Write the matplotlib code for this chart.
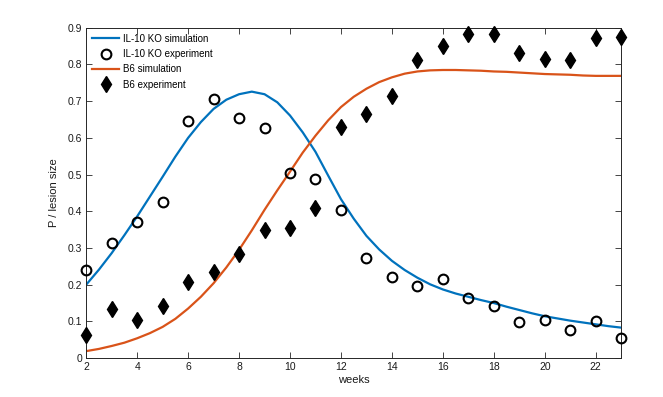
import matplotlib
matplotlib.use("Agg")
import matplotlib.pyplot as plt

plt.rcParams['font.family'] = ['Liberation Sans', 'DejaVu Sans']

weeks_exp = list(range(2, 24))
ko_exp = [0.24, 0.313, 0.372, 0.426, 0.646, 0.705, 0.655, 0.626, 0.505, 0.487, 0.404,
          0.274, 0.222, 0.197, 0.215, 0.163, 0.143, 0.099, 0.104, 0.077, 0.101, 0.055]
b6_exp = [0.063, 0.134, 0.104, 0.143, 0.208, 0.235, 0.284, 0.35, 0.355, 0.408, 0.629,
          0.665, 0.713, 0.811, 0.851, 0.884, 0.884, 0.831, 0.816, 0.811, 0.872, 0.876]

weeks_sim = [2 + 0.5 * i for i in range(43)]
ko_sim = [0.200, 0.241, 0.286, 0.335, 0.386, 0.440, 0.494, 0.549, 0.600, 0.643,
          0.679, 0.704, 0.719, 0.726, 0.719, 0.697, 0.661, 0.615, 0.562, 0.497,
          0.433, 0.380, 0.333, 0.296, 0.265, 0.240, 0.219, 0.201, 0.187, 0.176,
          0.167, 0.158, 0.150, 0.140, 0.131, 0.122, 0.114, 0.108, 0.102, 0.097,
          0.092, 0.087, 0.083]
b6_sim = [0.019, 0.025, 0.033, 0.042, 0.054, 0.068, 0.085, 0.107, 0.135, 0.167,
          0.204, 0.247, 0.295, 0.348, 0.404, 0.457, 0.508, 0.560, 0.606, 0.648,
          0.684, 0.712, 0.734, 0.752, 0.765, 0.775, 0.781, 0.784, 0.785, 0.785,
          0.784, 0.783, 0.781, 0.780, 0.778, 0.776, 0.774, 0.773, 0.772, 0.770,
          0.769, 0.769, 0.769]

xticks = list(range(2, 23, 2))
yticks = [0, 0.1, 0.2, 0.3, 0.4, 0.5, 0.6, 0.7, 0.8, 0.9]
ytick_labels = ['0', '0.1', '0.2', '0.3', '0.4', '0.5', '0.6', '0.7', '0.8', '0.9']

fig = plt.figure(figsize=(6.63, 3.97), dpi=100)
ax = fig.add_axes([0.13, 0.098, 0.807, 0.832])

ax.plot(weeks_sim, ko_sim, color='#0072BD', lw=1.6, label='IL-10 KO simulation',
        zorder=2, solid_joinstyle='round')
ax.plot(weeks_exp, ko_exp, 'o', mfc='none', mec='black', mew=1.5, ms=7,
        label='IL-10 KO experiment', zorder=3, clip_on=False)
ax.plot(weeks_sim, b6_sim, color='#D95319', lw=1.6, label='B6 simulation',
        zorder=2, solid_joinstyle='round')
ax.plot(weeks_exp, b6_exp, 'd', color='black', ms=8.5,
        label='B6 experiment', zorder=3, clip_on=False)

ax.set_xlim(2, 23)
ax.set_ylim(0, 0.9)
ax.set_xticks(xticks)
ax.set_yticks(yticks)
ax.set_yticklabels(ytick_labels)
ax.tick_params(direction='in', top=True, right=True, labelsize=7.5, length=4,
               width=0.6, color='#262626', labelcolor='#1a1a1a', pad=3)
for s in ax.spines.values():
    s.set_linewidth(0.7)
    s.set_color('#262626')

ax.set_xlabel('weeks', fontsize=8, color='#1a1a1a', labelpad=2)
ax.set_ylabel('P / lesion size', fontsize=8, color='#1a1a1a', labelpad=6)

ax.legend(loc='upper left', frameon=False, fontsize=7, handlelength=2.8,
          borderaxespad=0.2, labelspacing=0.55, handletextpad=0.4,
          bbox_to_anchor=(0.0, 1.0))

fig.savefig('out.png', dpi=100)
